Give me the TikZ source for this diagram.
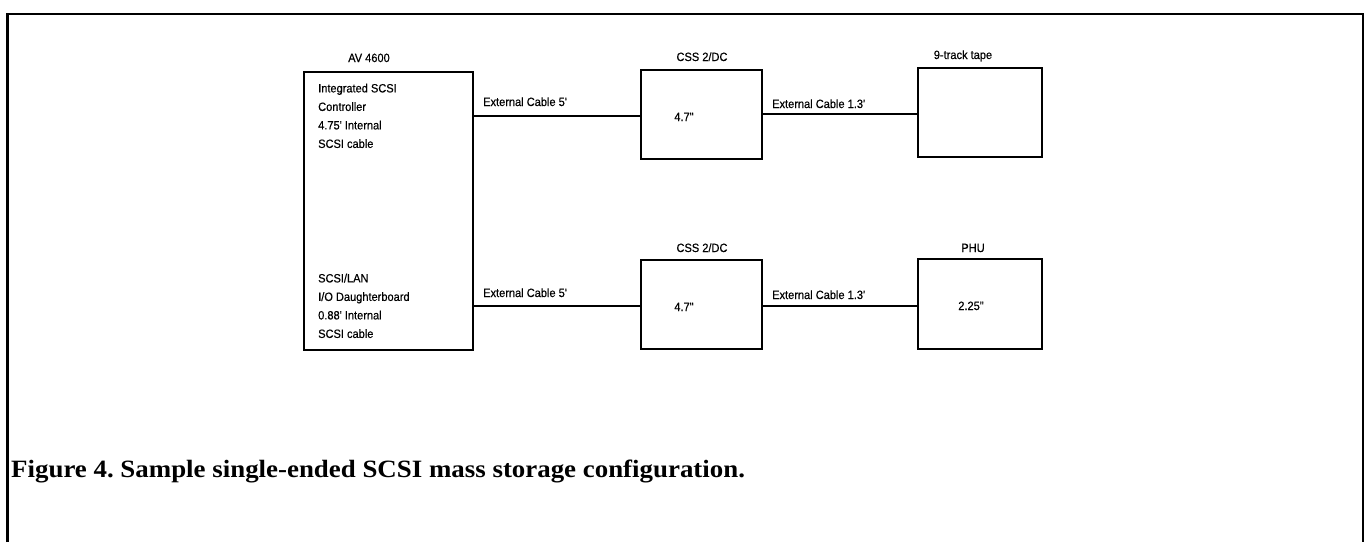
\documentclass[tikz,border=0pt]{standalone}
\usepackage{fontspec}
\setmainfont{Liberation Serif}
\newfontfamily\diagfont[FakeStretch=0.92,FakeBold=0.5]{Liberation Sans}
\newfontfamily\capfont[FakeStretch=1.08]{Liberation Serif}
\frenchspacing
\begin{document}
\begin{tikzpicture}[x=1pt,y=-1pt,
  unit/.style={draw=black,line width=1.9pt,minimum width=#1,inner sep=0pt},
  cable/.style={draw=black,line width=1.6pt},
  lbl/.style={font=\diagfont\fontsize{12}{14}\selectfont,inner sep=0pt,anchor=base},
  blk/.style={font=\diagfont\fontsize{12}{18.5}\selectfont,inner sep=0pt,align=left,anchor=north west},
  frame/.style={draw=black,line width=2.6pt}]
\useasboundingbox (0,0) rectangle (1366,542);
% outer frame (open at the bottom)
\draw[frame] (7.5,542) -- (7.5,14) -- (1363,14) -- (1363,542);
% units
\node[unit=169pt,minimum height=278pt] (av) at (388.5,211) {};
\node[unit=121pt,minimum height=89pt] (cssa) at (701.5,114.5) {};
\node[unit=124pt,minimum height=89pt] (tape) at (980,112.5) {};
\node[unit=121pt,minimum height=89pt] (cssb) at (701.5,304.5) {};
\node[unit=124pt,minimum height=90pt] (phu) at (980,304) {};
% titles
\node[lbl] (tav) at (369,62) {AV 4600};
\node[lbl] (tcssa) at (702,61) {CSS 2/DC};
\node[lbl] (ttape) at (963,59) {9-track tape};
\node[lbl] (tcssb) at (702,252) {CSS 2/DC};
\node[lbl] (tphu) at (973,252) {PHU};
% inner texts
\node[blk] (avtop) at (318,83.5) {Integrated SCSI\\Controller\\4.75' Internal\\SCSI cable};
\node[blk] (avbot) at (318,273.5) {SCSI/LAN\\I/O Daughterboard\\0.88' Internal\\SCSI cable};
\node[lbl] (va) at (684,121) {4.7"};
\node[lbl] (vb) at (684,311) {4.7"};
\node[lbl] (vc) at (971,310) {2.25"};
% cables
\draw[cable] (av.east |- 0,116) -- (cssa.west |- 0,116);
\draw[cable] (cssa.east |- 0,114) -- (tape.west |- 0,114);
\draw[cable] (av.east |- 0,306) -- (cssb.west |- 0,306);
\draw[cable] (cssb.east |- 0,306) -- (phu.west |- 0,306);
\node[lbl,anchor=base west] (ca) at (483,106) {External Cable 5'};
\node[lbl,anchor=base west] (cb) at (772,108) {External Cable 1.3'};
\node[lbl,anchor=base west] (cc) at (483,297) {External Cable 5'};
\node[lbl,anchor=base west] (cd) at (772,299) {External Cable 1.3'};
% caption
\node[font=\capfont\bfseries\fontsize{24.9}{29}\selectfont,inner sep=0pt,anchor=base west] (cap) at (11,477) {Figure 4. Sample single-ended SCSI mass storage configuration.};
\end{tikzpicture}
\end{document}
